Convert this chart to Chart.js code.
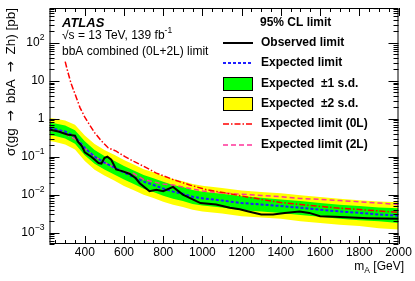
<!DOCTYPE html>
<html>
<head>
<meta charset="utf-8">
<script src="https://cdn.jsdelivr.net/npm/chart.js@4.4.1/dist/chart.umd.min.js"></script>
<style>
  body { margin: 0; background: #fff; }
  #wrap { width: 415px; height: 281px; position: relative; }
</style>
</head>
<body>
<div id="wrap"><canvas id="chart"></canvas></div>
<script>
// Mass points for the expected limit and its bands
const mass = [220, 250, 300, 350, 400, 450, 500, 550, 600, 650, 700, 750, 800, 850, 900, 950,
              1000, 1100, 1200, 1300, 1400, 1500, 1600, 1700, 1800, 1900, 2000];
const expected = [0.56, 0.53, 0.46, 0.34, 0.17, 0.10, 0.07, 0.052, 0.038, 0.029, 0.022, 0.018, 0.0145, 0.012, 0.0105, 0.0088,
                  0.0080, 0.0070, 0.0060, 0.0055, 0.0050, 0.0045, 0.0040, 0.0036, 0.0033, 0.0030, 0.0028];
const plus1 = [0.78, 0.75, 0.66, 0.50, 0.255, 0.15, 0.105, 0.078, 0.057, 0.0435, 0.033, 0.027, 0.0218, 0.018, 0.0158, 0.0132,
               0.012, 0.0105, 0.009, 0.0083, 0.0075, 0.0068, 0.006, 0.0054, 0.005, 0.0046, 0.0044];
const minus1 = [0.37, 0.35, 0.30, 0.22, 0.11, 0.065, 0.046, 0.034, 0.025, 0.019, 0.0143, 0.0117, 0.0094, 0.0078, 0.0068, 0.0057,
                0.0052, 0.0046, 0.0039, 0.0036, 0.0033, 0.0029, 0.0026, 0.0023, 0.0021, 0.002, 0.0018];
const plus2 = [1.05, 1.0, 0.90, 0.70, 0.36, 0.215, 0.15, 0.112, 0.082, 0.062, 0.047, 0.0387, 0.031, 0.0258, 0.0226, 0.019,
               0.0172, 0.015, 0.0129, 0.0118, 0.0108, 0.0097, 0.0086, 0.0078, 0.0071, 0.0066, 0.0063];
const minus2 = [0.26, 0.245, 0.21, 0.155, 0.077, 0.045, 0.032, 0.0235, 0.017, 0.013, 0.0099, 0.0081, 0.0065, 0.0054, 0.0047, 0.004,
                0.0036, 0.0032, 0.0027, 0.0025, 0.0023, 0.002, 0.0018, 0.0016, 0.0015, 0.0013, 0.0012];

// Observed limit
const obsMass = [220, 265, 315, 350, 365, 385, 400, 435, 470, 485, 500, 515, 535, 560, 595, 630, 660, 680, 730, 765,
                 800, 850, 900, 990, 1070, 1140, 1190, 1235, 1300, 1360, 1420, 1495, 1545, 1600, 1675, 1845, 2000];
const observed = [0.52, 0.46, 0.38, 0.36, 0.25, 0.19, 0.13, 0.098, 0.068, 0.066, 0.092, 0.10, 0.083, 0.046, 0.041, 0.035, 0.027, 0.020, 0.0123, 0.0135,
                  0.0123, 0.016, 0.010, 0.006, 0.0055, 0.0045, 0.0041, 0.0036, 0.0030, 0.0030, 0.0033, 0.0036, 0.0033, 0.0027, 0.0026, 0.0024, 0.0023];

// Expected limit, 0L channel only
const mass0L = [300, 315, 330, 350, 375, 400, 425, 450, 485, 520, 560, 605, 650, 700, 765, 850, 935, 1020, 1140, 1200,
                1300, 1400, 1500, 1675, 1845, 2000];
const limit0L = [32, 16, 8.5, 4.5, 2.0, 1.1, 0.68, 0.43, 0.26, 0.17, 0.14, 0.10, 0.075, 0.056, 0.037, 0.025, 0.018, 0.0135, 0.0105, 0.0092,
                 0.0075, 0.0062, 0.0055, 0.0045, 0.0039, 0.0034];

// Expected limit, 2L channel only
const mass2L = [220, 280, 350, 370, 400, 450, 500, 550, 600, 650, 700, 800, 850, 950, 1000, 1100, 1200, 1300, 1400, 1500,
                1600, 1700, 1800, 1900, 2000];
const limit2L = [0.50, 0.46, 0.29, 0.25, 0.17, 0.10, 0.072, 0.05, 0.040, 0.036, 0.025, 0.019, 0.018, 0.014, 0.0125, 0.011, 0.0102, 0.0095, 0.0088, 0.0079,
                 0.0075, 0.0070, 0.0065, 0.0060, 0.0055];

// Tick labels
const xTickValues = [400, 600, 800, 1000, 1200, 1400, 1600, 1800, 2000];
const yTickValues = [1e-3, 1e-2, 1e-1, 1, 10, 100];
const yTickBase = ['10', '10', '10', '1', '10', '10'];
const yTickExp = ['\u22123', '\u22122', '\u22121', '', '', '2'];

const FONT = '"Liberation Sans", Arial, sans-serif';
const ARROW_FONT = '"DejaVu Sans", sans-serif';

function pts(xs, ys) {
    return xs.map((x, i) => ({ x: x, y: ys[i] }));
}

function lineSet(label, xs, ys, color, width, dash) {
    return {
        label: label, data: pts(xs, ys), borderColor: color, borderWidth: width,
        borderDash: dash, pointRadius: 0, fill: false, tension: 0
    };
}

function bandSet(label, ys, color, fillTo) {
    return {
        label: label, data: pts(mass, ys), borderColor: 'rgba(0,0,0,0)', borderWidth: 0,
        backgroundColor: color, pointRadius: 0, fill: fillTo, tension: 0
    };
}

// draw "base^exp" text, right aligned at x
function drawPower(ctx, base, exp, x, y, size, align) {
    ctx.font = size + 'px ' + FONT;
    const bw = ctx.measureText(base).width;
    ctx.font = (size * 0.72) + 'px ' + FONT;
    const ew = exp ? ctx.measureText(exp).width : 0;
    let left = align === 'right' ? x - bw - ew : x;
    ctx.textAlign = 'left';
    ctx.textBaseline = 'middle';
    ctx.font = size + 'px ' + FONT;
    ctx.fillText(base, left, y);
    if (exp) {
        ctx.font = (size * 0.72) + 'px ' + FONT;
        ctx.fillText(exp, left + bw, y - size * 0.42);
    }
}

// y title pieces; arrows use a font that has a full-size arrow glyph
const yTitleParts = [
    ['\u03c3(gg\u2002', FONT], ['\u2192', ARROW_FONT], ['\u2002bbA\u2002', FONT], ['\u2192', ARROW_FONT], ['\u2002Zh) [pb]', FONT]
];

const decorations = {
    id: 'decorations',
    afterDraw(chart) {
        const ctx = chart.ctx;
        const area = chart.chartArea;
        const xs = chart.scales.x;
        const ys = chart.scales.y;
        ctx.save();
        ctx.strokeStyle = '#000';
        ctx.fillStyle = '#000';
        ctx.lineWidth = 1;

        // frame
        ctx.strokeRect(area.left + 0.5, area.top + 0.5, area.right - area.left - 1, area.bottom - area.top - 1);

        // x ticks, all four sides point inwards
        ctx.beginPath();
        for (let m = 250; m <= 2000; m += 50) {
            const px = Math.round(xs.getPixelForValue(m)) + 0.5;
            const len = (m % 200 === 0) ? 8 : 4;
            ctx.moveTo(px, area.bottom);
            ctx.lineTo(px, area.bottom - len);
            ctx.moveTo(px, area.top);
            ctx.lineTo(px, area.top + len);
        }
        // y ticks
        for (let e = -4; e <= 2; e++) {
            for (let k = 1; k <= 9; k++) {
                const v = k * Math.pow(10, e);
                if (v < ys.min || v > ys.max) continue;
                const py = Math.round(ys.getPixelForValue(v)) + 0.5;
                const len = k === 1 ? 10 : 5;
                ctx.moveTo(area.left, py);
                ctx.lineTo(area.left + len, py);
                ctx.moveTo(area.right, py);
                ctx.lineTo(area.right - len, py);
            }
        }
        ctx.stroke();

        // x tick labels
        ctx.font = '12px ' + FONT;
        ctx.textAlign = 'center';
        ctx.textBaseline = 'top';
        xTickValues.forEach(v => {
            ctx.fillText(String(v), xs.getPixelForValue(v), area.bottom + 3);
        });

        // y tick labels
        yTickValues.forEach((v, i) => {
            drawPower(ctx, yTickBase[i], yTickExp[i], area.left - 5, ys.getPixelForValue(v), 12, 'right');
        });

        // x axis title
        ctx.font = '12px ' + FONT;
        const gevW = ctx.measureText(' [GeV]').width;
        ctx.font = '8.5px ' + FONT;
        const aW = ctx.measureText('A').width;
        ctx.font = '12px ' + FONT;
        const mW = ctx.measureText('m').width;
        let tx = 404 - gevW - aW - mW;
        ctx.textAlign = 'left';
        ctx.textBaseline = 'alphabetic';
        ctx.fillText('m', tx, 270);
        ctx.font = '8.5px ' + FONT;
        ctx.fillText('A', tx + mW, 273);
        ctx.font = '12px ' + FONT;
        ctx.fillText(' [GeV]', tx + mW + aW, 270);

        // y axis title, right aligned to the top of the frame
        ctx.save();
        ctx.translate(15, area.top);
        ctx.rotate(-Math.PI / 2);
        ctx.textAlign = 'left';
        ctx.textBaseline = 'alphabetic';
        let total = 0;
        yTitleParts.forEach(p => {
            ctx.font = '13.5px ' + p[1];
            total += ctx.measureText(p[0]).width;
        });
        let cx = -total;
        yTitleParts.forEach(p => {
            ctx.font = '13.5px ' + p[1];
            ctx.fillText(p[0], cx, 0);
            cx += ctx.measureText(p[0]).width;
        });
        ctx.restore();

        // ATLAS label block
        ctx.textAlign = 'left';
        ctx.textBaseline = 'middle';
        ctx.font = 'bold italic 13px ' + FONT;
        ctx.fillText('ATLAS', 62, 23);
        ctx.font = '12px ' + FONT;
        const s1 = '\u221as = 13 TeV, 139 fb';
        ctx.fillText(s1, 62, 36);
        const s1w = ctx.measureText(s1).width;
        ctx.font = '8.5px ' + FONT;
        ctx.fillText('-1', 62 + s1w, 31);
        ctx.font = '12px ' + FONT;
        ctx.fillText('bbA combined (0L+2L) limit', 62, 52);

        // legend
        const lx0 = 223, lx1 = 253, tX = 261;
        ctx.font = 'bold 12px ' + FONT;
        ctx.fillText('95% CL limit', 260, 23);
        const rows = [
            { text: 'Observed limit', y: 43, type: 'line', color: '#000', width: 2, dash: [] },
            { text: 'Expected limit', y: 63, type: 'line', color: '#1f1fff', width: 2, dash: [3, 2] },
            { text: 'Expected  \u00b11 s.d.', y: 84, type: 'box', color: '#00ff00' },
            { text: 'Expected  \u00b12 s.d.', y: 104, type: 'box', color: '#ffff00' },
            { text: 'Expected limit (0L)', y: 124, type: 'line', color: '#ff0000', width: 1.5, dash: [6, 2, 1.5, 2] },
            { text: 'Expected limit (2L)', y: 145, type: 'line', color: '#ff3399', width: 1.5, dash: [5, 3] }
        ];
        rows.forEach(r => {
            if (r.type === 'line') {
                ctx.save();
                ctx.strokeStyle = r.color;
                ctx.lineWidth = r.width;
                ctx.setLineDash(r.dash);
                ctx.beginPath();
                ctx.moveTo(lx0, r.y);
                ctx.lineTo(lx1, r.y);
                ctx.stroke();
                ctx.restore();
            } else {
                ctx.fillStyle = r.color;
                ctx.fillRect(lx0, r.y - 7, lx1 - lx0, 14);
                ctx.strokeStyle = '#000';
                ctx.lineWidth = 1;
                ctx.strokeRect(lx0 + 0.5, r.y - 6.5, lx1 - lx0 - 1, 13);
                ctx.fillStyle = '#000';
            }
            ctx.font = 'bold 12px ' + FONT;
            ctx.fillText(r.text, tX, r.y);
        });

        ctx.restore();
    }
};

const ctx = document.getElementById('chart').getContext('2d');
const chart = new Chart(ctx, {
    type: 'line',
    data: {
        datasets: [
            lineSet('Observed limit', obsMass, observed, '#000000', 2, []),
            lineSet('Expected limit', mass, expected, '#1f1fff', 2, [3, 2]),
            lineSet('Expected limit (0L)', mass0L, limit0L, '#ff0000', 1.5, [6, 2, 1.5, 2]),
            lineSet('Expected limit (2L)', mass2L, limit2L, '#ff3399', 1.5, [5, 3]),
            bandSet('+1 s.d.', plus1, '#00ff00', 5),
            bandSet('-1 s.d.', minus1, 'rgba(0,0,0,0)', false),
            bandSet('+2 s.d.', plus2, '#ffff00', 7),
            bandSet('-2 s.d.', minus2, 'rgba(0,0,0,0)', false)
        ]
    },
    options: {
        responsive: true,
        maintainAspectRatio: false,
        animation: false,
        devicePixelRatio: 1,
        layout: { padding: { top: 8, right: 16.5, left: 0, bottom: 0 } },
        plugins: { legend: { display: false }, tooltip: { enabled: false } },
        scales: {
            x: {
                type: 'linear', min: 220, max: 2000,
                grid: { display: false }, border: { display: false },
                ticks: { display: false },
                afterFit: s => { s.height = 37; }
            },
            y: {
                type: 'logarithmic', min: 5e-4, max: 830,
                grid: { display: false }, border: { display: false },
                ticks: { display: false },
                afterFit: s => { s.width = 49.5; }
            }
        }
    },
    plugins: [decorations]
});
</script>
</body>
</html>
